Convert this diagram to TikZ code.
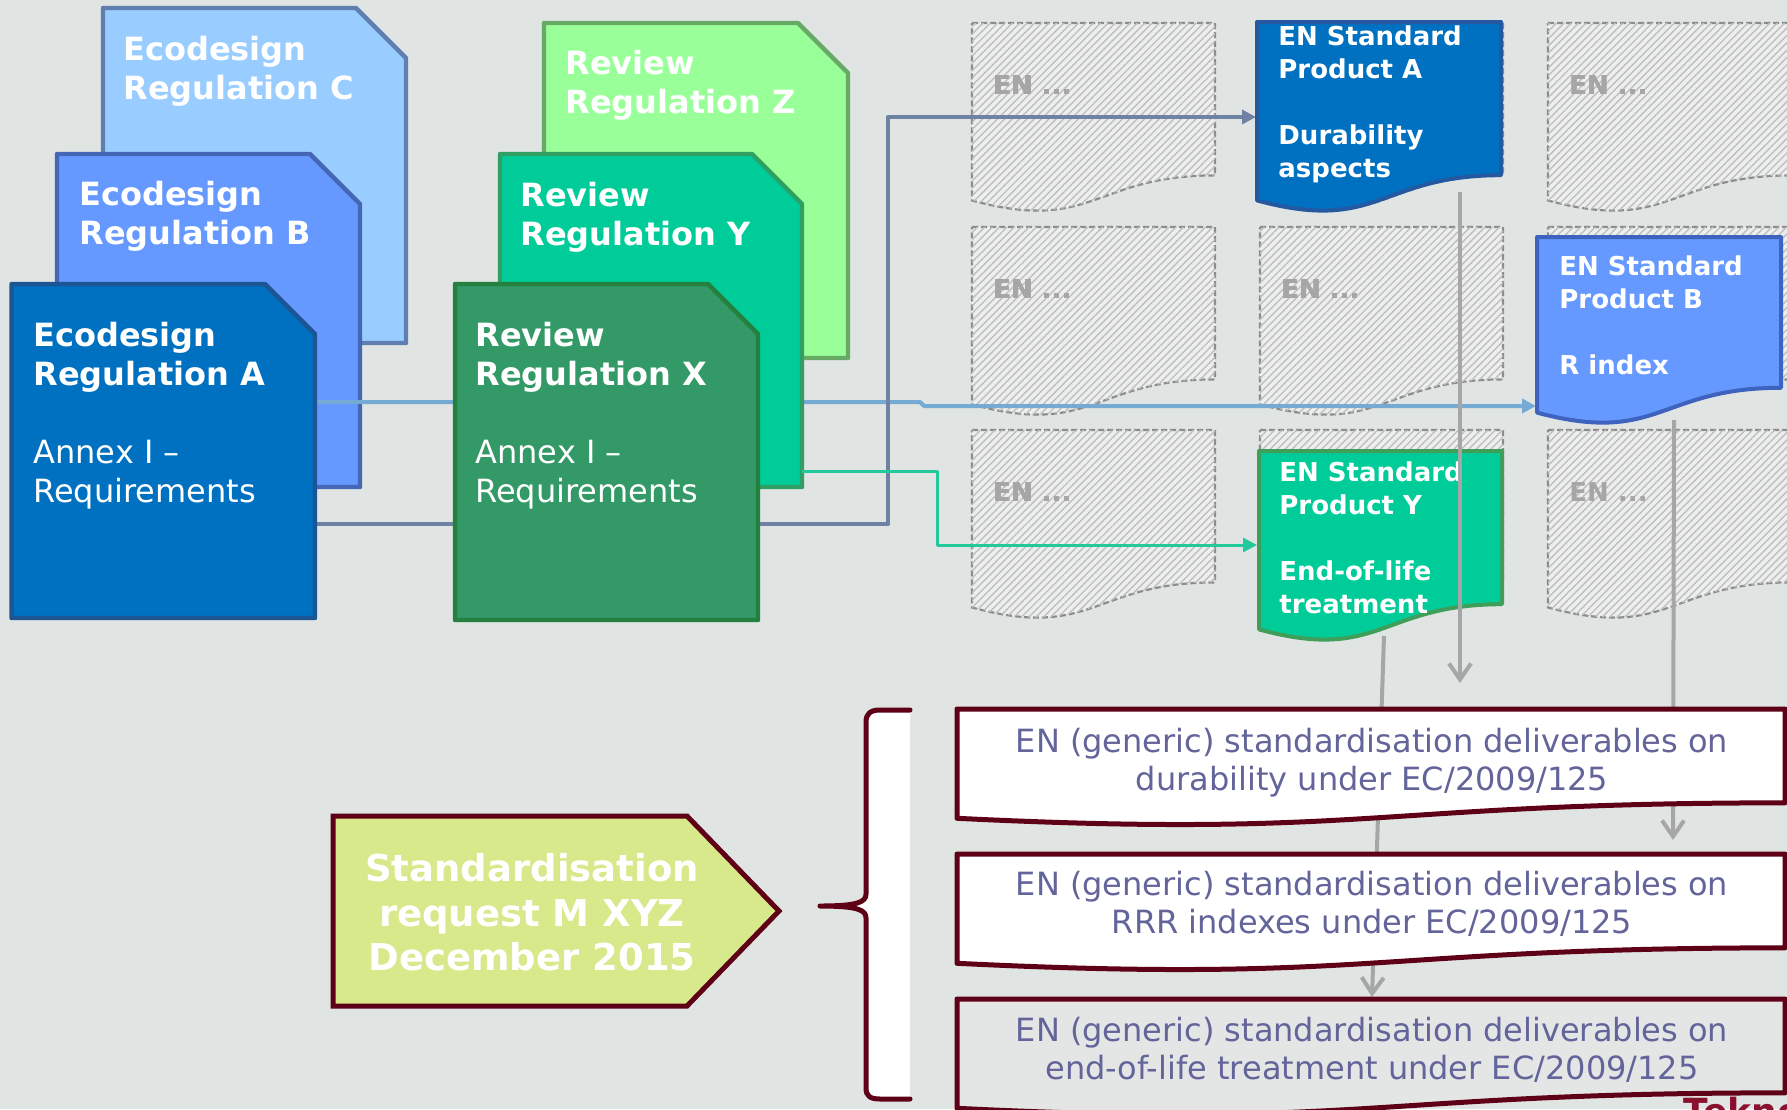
\documentclass[tikz,border=0pt]{standalone}
\usepackage{fontspec}
\setmainfont{DejaVu Sans}
\usetikzlibrary{arrows.meta,patterns.meta}

\definecolor{bgcol}{RGB}{224,228,226}
\definecolor{ecoA}{HTML}{0070C0}
\definecolor{ecoB}{HTML}{6699FF}
\definecolor{ecoC}{HTML}{99CCFF}
\definecolor{revX}{HTML}{339966}
\definecolor{revY}{HTML}{00CC99}
\definecolor{revZ}{HTML}{99FF99}
\definecolor{ecoAline}{HTML}{1B5593}
\definecolor{ecoBline}{HTML}{4565B5}
\definecolor{ecoCline}{HTML}{5E7FB0}
\definecolor{revXline}{HTML}{23803F}
\definecolor{revYline}{HTML}{2FA064}
\definecolor{revZline}{HTML}{66AA66}
\definecolor{stdAline}{HTML}{2458A0}
\definecolor{stdBline}{HTML}{3E63BE}
\definecolor{stdYline}{HTML}{3F9E5A}
\definecolor{maroon}{HTML}{5E0016}
\definecolor{delivcol}{HTML}{62649A}
\definecolor{delivgrey}{HTML}{E3E6E5}
\definecolor{reqfill}{HTML}{D7E98A}
\definecolor{linkblue}{HTML}{74AAD4}
\definecolor{linkslate}{HTML}{6F82A3}
\definecolor{linkteal}{HTML}{21C99B}
\definecolor{arrowgrey}{HTML}{A6A6A6}
\definecolor{dashgrey}{HTML}{8C8C8C}
\definecolor{teknored}{HTML}{8A1030}

% document with cut corner: style, x1, y1, x2, y2
\newcommand{\cutdoc}[5]{\draw[regdoc,#1] (#2,#3) -- ({#4-50},#3) -- (#4,{#3+50}) -- (#4,#5) -- (#2,#5) -- cycle;}
% document with wavy bottom: style, x, y, w, h
\newcommand{\wavedoc}[5]{\draw[#1] (#2,#3) -- ++(#4,0) -- ++(0,{0.802*#5})
  .. controls ({#2+0.5*#4},{#3+0.802*#5}) and ({#2+0.5*#4},{#3+1.1075*#5}) .. (#2,{#3+0.934*#5}) -- cycle;}

\tikzset{
  regdoc/.style={line width=2.2pt, line join=round},
  placeholder/.style={draw=dashgrey, dash pattern=on 3pt off 1.5pt, line width=1.1pt, fill=white!40!bgcol,
    postaction={pattern={Lines[angle=45,distance=2.6pt,line width=0.7pt]}, pattern color=gray!50}},
  stddoc/.style={line width=2pt, line join=round},
  regtext/.style={text=white, align=left, anchor=north west, inner sep=0pt, font=\fontsize{16}{19.5}\selectfont},
  stdtext/.style={text=white, align=left, anchor=north west, inner sep=0pt, font=\bfseries\fontsize{13}{16.5}\selectfont},
  entext/.style={text=arrowgrey, anchor=west, inner sep=0pt, font=\bfseries\fontsize{13}{16}\selectfont},
  link/.style={-{Triangle[length=7pt,width=7pt]}, line join=round},
  greyarrow/.style={draw=arrowgrey, line width=2pt, -{Straight Barb[length=8pt,width=11pt]}},
  delivbox/.style={draw=maroon, line width=2.5pt, fill=white, line join=round},
  deliv/.style={text=delivcol, align=center, anchor=north, inner sep=0pt, font=\fontsize{16}{19}\selectfont},
  brace/.style={draw=maroon, line width=2.5pt, line cap=round, line join=round},
}

\begin{document}
\begin{tikzpicture}[x=0.5pt,y=-0.5pt]
\useasboundingbox (0,0) rectangle (1787,1109);
\clip (0,0) rectangle (1787,1109);
\fill[bgcol] (0,0) rectangle (1787,1109);

% EN placeholders
\foreach \cx in {972,1260,1548}
  \foreach \ry in {23,227,430}
    \wavedoc{placeholder}{\cx}{\ry}{243}{190}
\foreach \cx/\ry [count=\i] in {972/23,1548/23,972/227,1260/227,972/430,1548/430}
  \node[entext] (en\i) at (\cx+21,\ry+62) {EN ...};

% ports
\coordinate (regA-p1) at (316,402);
\coordinate (regA-p2) at (305,524);
\coordinate (revY-p) at (802,471);
\coordinate (stdA-w) at (1256,117);
\coordinate (stdB-w) at (1536,406);
\coordinate (stdY-w) at (1257,545);

% regulations at the back
\cutdoc{fill=ecoC, draw=ecoCline}{103}{8}{406}{343}
\node[regtext] (regC) at (123,35.4) {\textbf{Ecodesign}\\\textbf{Regulation C}};
\cutdoc{fill=ecoB, draw=ecoBline}{57}{154}{360}{487}
\node[regtext] (regB) at (79,180.4) {\textbf{Ecodesign}\\\textbf{Regulation B}};

\draw[link, draw=linkblue, line width=2pt] (regA-p1) -- ++(604,0) -- ++(4,4) -- (stdB-w);

\cutdoc{fill=revZ, draw=revZline}{544}{23}{848}{358}
\node[regtext] (revZ) at (565,49.4) {\textbf{Review}\\\textbf{Regulation Z}};
\cutdoc{fill=revY, draw=revYline}{500}{154}{802}{487}
\node[regtext] (revY) at (520,181.4) {\textbf{Review}\\\textbf{Regulation Y}};

% links to the standards
\draw[link, draw=linkslate, line width=2.3pt] (regA-p2) -- ++(583,0) |- (stdA-w);
\draw[link, draw=linkteal, line width=1.5pt] (revY-p) -- ++(135,0) |- (stdY-w);

% regulations in front
\cutdoc{fill=ecoA, draw=ecoAline}{11.5}{284}{315}{618}
\node[regtext] (regA) at (33,321.4) {\textbf{Ecodesign}\\\textbf{Regulation A}\\[19.5pt]Annex I –\\Requirements};
\cutdoc{fill=revX, draw=revXline}{455}{284}{758}{620}
\node[regtext] (revX) at (475,321.4) {\textbf{Review}\\\textbf{Regulation X}\\[19.5pt]Annex I –\\Requirements};

% EN standards
\wavedoc{stddoc, fill=ecoA, draw=stdAline}{1257}{22}{244}{191}
\node[stdtext] (stdA) at (1278,25.7) {EN Standard\\Product A\\[16.5pt]Durability\\aspects};
\wavedoc{stddoc, fill=ecoB, draw=stdBline}{1537}{237}{244}{188}
\node[stdtext] (stdB) at (1559,255.7) {EN Standard\\Product B\\[16.5pt]R index};
\wavedoc{stddoc, fill=revY, draw=stdYline}{1259}{451}{243}{191}
\node[stdtext] (stdY) at (1279,461.7) {EN Standard\\Product Y\\[16.5pt]End-of-life\\treatment};

% standards into deliverables
\coordinate (stdA-s) at (1460,192);
\coordinate (stdB-s) at (1674,420);
\coordinate (stdY-s) at (1384,636);
\draw[greyarrow] (stdA-s) -- ++(0,491);
\draw[greyarrow] (stdB-s) -- ++(-1,420);
\draw[greyarrow] (stdY-s) -- ++(-12,361);

% deliverables
\wavedoc{delivbox}{957}{709}{828}{117}
\node[deliv] (delDur) at (1372,727.4) {EN (generic) standardisation deliverables on\\durability under EC/2009/125};
\wavedoc{delivbox}{957}{854}{828}{117}
\node[deliv] (delRRR) at (1372,870.4) {EN (generic) standardisation deliverables on\\RRR indexes under EC/2009/125};
\wavedoc{delivbox, fill=delivgrey}{957}{999}{828}{117}
\node[deliv] (delEol) at (1372,1016.4) {EN (generic) standardisation deliverables on\\end-of-life treatment under EC/2009/125};

% brace
\fill[white] (910,710) -- (880,710) .. controls (870,710) and (866,714) .. (866,722) -- (866,894)
  .. controls (866,902) and (858,906) .. (820,906) .. controls (858,906) and (866,910) .. (866,918)
  -- (866,1088) .. controls (866,1096) and (870,1099) .. (880,1099) -- (910,1099) -- cycle;
\draw[brace] (910,710) -- (880,710) .. controls (870,710) and (866,714) .. (866,722) -- (866,894)
  .. controls (866,902) and (858,906) .. (820,906) .. controls (858,906) and (866,910) .. (866,918)
  -- (866,1088) .. controls (866,1096) and (870,1099) .. (880,1099) -- (910,1099);

% request
\draw[fill=reqfill, draw=maroon, line width=2.5pt, line join=miter] (333,816) -- (687,816) -- (779,911) -- (687,1006) -- (333,1006) -- cycle;
\node[text=white, align=center, anchor=north, inner sep=0pt, font=\bfseries\fontsize{18.5}{22.25}\selectfont]
  (req) at (532,853.4) {Standardisation\\request M XYZ\\December 2015};

\node[text=teknored, anchor=north west, inner sep=0pt, font=\bfseries\fontsize{18}{20}\selectfont] (tekno) at (1683,1097) {Teknol};
\end{tikzpicture}
\end{document}
